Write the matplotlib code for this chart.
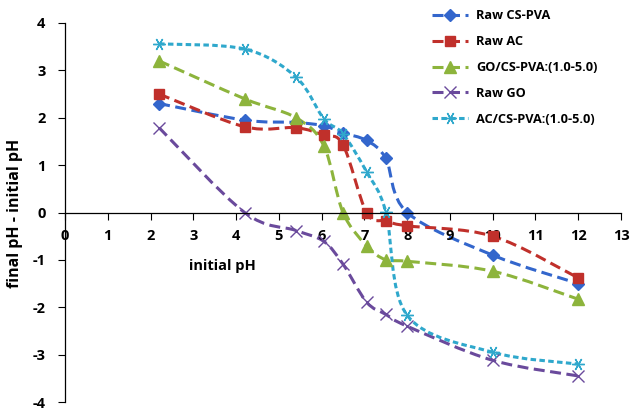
import numpy as np
import matplotlib
matplotlib.use('Agg')
import matplotlib.pyplot as plt
from matplotlib.path import Path
from matplotlib.patches import PathPatch
from matplotlib.lines import Line2D

# data
ph_init = [2.2, 4.2, 5.4, 6.05, 6.5, 7.05, 7.5, 8.0, 10.0, 12.0]
raw_cspva = [2.3, 1.95, 1.9, 1.83, 1.68, 1.52, 1.14, 0.0, -0.9, -1.5]
raw_ac = [2.5, 1.81, 1.79, 1.63, 1.43, 0.0, -0.18, -0.28, -0.5, -1.38]
go_cspva = [3.2, 2.4, 2.0, 1.41, 0.0, -0.7, -1.0, -1.03, -1.24, -1.83]
raw_go = [1.79, 0.0, -0.38, -0.61, -1.09, -1.89, -2.15, -2.4, -3.12, -3.45]
ac_cspva = [3.56, 3.45, 2.86, 1.98, 1.66, 0.86, 0.02, -2.17, -2.95, -3.2]

labels = ['Raw CS-PVA', 'Raw AC', 'GO/CS-PVA:(1.0-5.0)', 'Raw GO', 'AC/CS-PVA:(1.0-5.0)']
series = [raw_cspva, raw_ac, go_cspva, raw_go, ac_cspva]
colors = ['#3366CC', '#C0302B', '#8DB43C', '#6A4A9C', '#2FA8CC']
markers = ['D', 's', '^', 'x', (6, 2, 90)]
msizes = [6, 7, 8, 8, 9]
dashes = [(3.6, 1.8), (3.6, 1.8), (3.6, 1.8), (3.6, 1.8), (1.8, 1.1)]


def smooth_path(x, y, t=1/6.):
    # catmull-rom style bezier through the points (like excel smoothed line)
    x = np.asarray(x, float)
    y = np.asarray(y, float)
    verts = [(x[0], y[0])]
    codes = [Path.MOVETO]
    n = len(x)
    for i in range(n - 1):
        p0 = i - 1 if i > 0 else i
        p3 = i + 2 if i + 2 < n else i + 1
        c1 = (x[i] + (x[i+1] - x[p0]) * t, y[i] + (y[i+1] - y[p0]) * t)
        c2 = (x[i+1] - (x[p3] - x[i]) * t, y[i+1] - (y[p3] - y[i]) * t)
        verts += [c1, c2, (x[i+1], y[i+1])]
        codes += [Path.CURVE4] * 3
    return Path(verts, codes)


plt.rcParams['font.family'] = ['Open Sans', 'DejaVu Sans']
plt.rcParams['font.weight'] = 'bold'
plt.rcParams['axes.unicode_minus'] = False

fig = plt.figure(figsize=(6.32, 4.09), dpi=100)
ax = fig.add_axes([65/632, 7/409, 556/632, 379/409])

handles = []
for ys, lab, c, m, ms, d in zip(series, labels, colors, markers, msizes, dashes):
    thin = (m == 'x' or isinstance(m, tuple))
    patch = PathPatch(smooth_path(ph_init, ys), facecolor='none', edgecolor=c,
                      lw=2.2, linestyle=(0, d), capstyle='butt')
    ax.add_patch(patch)
    ax.plot(ph_init, ys, linestyle='none', marker=m, ms=ms, color=c, mec=c,
            mew=1.0 if thin else 1)
    handles.append(Line2D([], [], color=c, lw=2.2, linestyle=(0, d), marker=m,
                          ms=ms, mew=1.0 if thin else 1))

ax.set_xlim(0, 13)
ax.set_ylim(-4, 4)
ax.spines['top'].set_visible(False)
ax.spines['right'].set_visible(False)
ax.spines['bottom'].set_position(('data', 0))
ax.spines['left'].set_linewidth(0.9)
ax.spines['bottom'].set_linewidth(0.9)
ax.set_xticks(range(0, 14))
ax.set_yticks(range(-4, 5))
ax.tick_params(axis='x', direction='out', length=5, pad=7, labelsize=10.5)
ax.tick_params(axis='y', direction='out', length=5, pad=9, labelsize=10.5)
for lb in ax.get_xticklabels() + ax.get_yticklabels():
    lb.set_fontweight('bold')

ax.text(3.67, -1.13, 'initial pH', fontsize=10.5, fontweight='bold', ha='center', va='center')
fig.text(15/632, 1 - 213/409, 'final pH - initial pH', rotation=90, fontsize=11.5,
         fontweight='bold', ha='center', va='center')

leg = ax.legend(handles, labels, loc='upper left', bbox_to_anchor=(0.64, 1.066),
                frameon=False, handlelength=2.8, handletextpad=0.6, labelspacing=1.0,
                prop={'weight': 'bold', 'size': 9.2})

fig.savefig('out.png', dpi=100)
